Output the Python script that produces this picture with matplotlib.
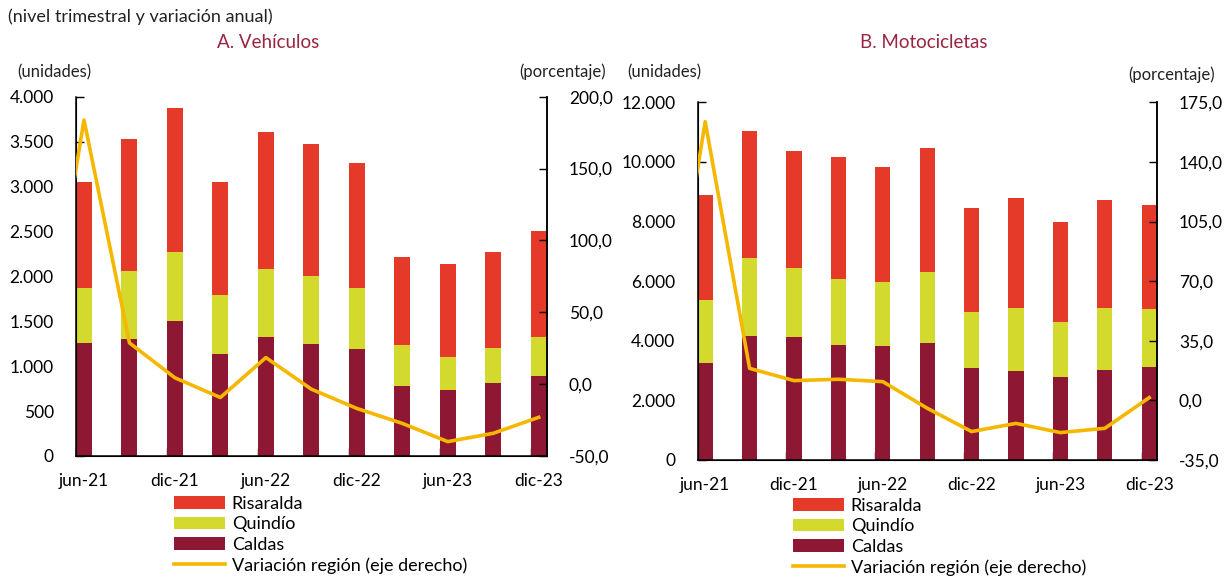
import matplotlib
matplotlib.use("Agg")
import matplotlib.pyplot as plt
from matplotlib.patches import Patch
from matplotlib.lines import Line2D

plt.rcParams['font.family'] = ['Lato', 'DejaVu Sans']

# ---------------- data ----------------
quarters = ["jun-21", "sep-21", "dic-21", "mar-22", "jun-22", "sep-22",
            "dic-22", "mar-23", "jun-23", "sep-23", "dic-23"]
tick_labels = ["jun-21", "dic-21", "jun-22", "dic-22", "jun-23", "dic-23"]

# A. Vehículos (unidades)
veh_caldas = [1261, 1306, 1506, 1135, 1321, 1250, 1187, 775, 731, 809, 890]
veh_quindio = [613, 757, 768, 653, 764, 753, 687, 457, 375, 397, 431]
veh_risaralda = [1172, 1469, 1603, 1258, 1521, 1473, 1383, 987, 1027, 1068, 1180]
# variación anual región (%), first value = mar-21 (outside the visible range)
veh_var = [-9.0, 183.8, 28.7, 4.4, -9.3, 18.5, -3.5, -16.9, -27.3, -40.0, -34.2, -23.1]

# B. Motocicletas (unidades)
moto_caldas = [3242, 4159, 4114, 3846, 3812, 3935, 3075, 2996, 2773, 3030, 3119]
moto_quindio = [2124, 2616, 2315, 2236, 2147, 2371, 1900, 2102, 1856, 2068, 1934]
moto_risaralda = [3511, 4260, 3924, 4092, 3868, 4170, 3477, 3701, 3342, 3611, 3489]
moto_var = [2.2, 163.6, 18.8, 11.6, 12.4, 11.0, -4.6, -18.3, -13.5, -18.9, -16.4, 1.6]

# ---------------- style ----------------
C_RIS = "#E5392A"
C_QUI = "#D4D92E"
C_CAL = "#8E1733"
C_LINE = "#F5B700"
C_TITLE = "#9A2442"

W, H = 1228, 577
fig = plt.figure(figsize=(W / 100, H / 100), dpi=100)


def px(x0, y0, x1, y1):
    return [x0 / W, 1 - y1 / H, (x1 - x0) / W, (y1 - y0) / H]


def panel(rect, caldas, quindio, risaralda, var, ylim, yticks, yfmt,
          rlim, rticks, bw):
    ax = fig.add_axes(rect)
    x = list(range(len(quarters)))
    base2 = [a + b for a, b in zip(caldas, quindio)]
    ax.bar(x, caldas, width=bw, color=C_CAL, zorder=2)
    ax.bar(x, quindio, width=bw, bottom=caldas, color=C_QUI, zorder=2)
    ax.bar(x, risaralda, width=bw, bottom=base2, color=C_RIS, zorder=2)
    ax.set_xlim(-bw / 2, len(quarters) - 1 + bw / 2)
    ax.set_ylim(*ylim)
    ax.set_yticks(yticks)
    ax.set_yticklabels([yfmt(v) for v in yticks])
    # major ticks at category boundaries (left edge of bars), labels centred
    ax.set_xticks([i - bw / 2 for i in range(0, len(quarters), 2)])
    ax.set_xticklabels([])
    ax.set_xticks(list(range(0, len(quarters), 2)), minor=True)
    ax.set_xticklabels(tick_labels, minor=True)
    ax.tick_params(axis='x', which='major', direction='in', length=6, width=1)
    ax.tick_params(axis='x', which='minor', length=0, pad=12, labelsize=12.5)
    ax.tick_params(axis='y', direction='in', length=6, width=1, pad=16,
                   labelsize=12.5)
    ax.spines['top'].set_visible(False)
    for s in ['left', 'bottom', 'right']:
        ax.spines[s].set_linewidth(1.1)

    ax2 = ax.twinx()
    xl = list(range(-1, len(quarters)))
    ax2.plot(xl, var, color=C_LINE, lw=2.6, zorder=3, solid_joinstyle='round')
    ax2.set_ylim(*rlim)
    ax2.set_yticks(rticks)
    ax2.set_yticklabels([f"{v:.1f}".replace(".", ",") for v in rticks])
    ax2.tick_params(axis='y', direction='in', length=6, width=1, pad=16,
                    labelsize=12.5)
    ax2.spines['top'].set_visible(False)
    ax2.spines['right'].set_linewidth(1.1)
    ax2.set_xlim(ax.get_xlim())
    return ax, ax2


def thousands(v):
    return f"{v:,.0f}".replace(",", ".")


axA, axA2 = panel(px(76, 96.7, 546.7, 456), veh_caldas, veh_quindio, veh_risaralda,
                  veh_var, (0, 4000), list(range(0, 4001, 500)), thousands,
                  (-50, 200), [-50, 0, 50, 100, 150, 200], 0.352)
axB, axB2 = panel(px(697.7, 102.3, 1156.7, 460), moto_caldas, moto_quindio,
                  moto_risaralda, moto_var, (0, 12000), list(range(0, 12001, 2000)),
                  thousands, (-35, 175), [-35, 0, 35, 70, 105, 140, 175], 0.338)

# ---------------- texts ----------------
fig.text(8 / W, 1 - 17 / H, "(nivel trimestral y variación anual)",
         fontsize=13, va='center', ha='left', color='#222222')
fig.text(268 / W, 1 - 43 / H, "A. Vehículos", fontsize=13.5, color=C_TITLE,
         ha='center', va='center')
fig.text(924 / W, 1 - 43 / H, "B. Motocicletas", fontsize=13.5, color=C_TITLE,
         ha='center', va='center')
for xx, yy, t, ha in [(17, 72, "(unidades)", 'left'), (606, 72, "(porcentaje)", 'right'),
                      (627, 72, "(unidades)", 'left'), (1215, 75, "(porcentaje)", 'right')]:
    fig.text(xx / W, 1 - yy / H, t, fontsize=12, ha=ha, va='center', color='#222222')

# ---------------- legends ----------------
handles = [Patch(facecolor=C_RIS, edgecolor='none'),
           Patch(facecolor=C_QUI, edgecolor='none'),
           Patch(facecolor=C_CAL, edgecolor='none'),
           Line2D([], [], color=C_LINE, lw=2.6)]
labels = ["Risaralda", "Quindío", "Caldas", "Variación región (eje derecho)"]
for x0, y0 in [(174, 496), (793, 498)]:
    fig.legend(handles, labels, loc='upper left', bbox_to_anchor=(x0 / W, 1 - y0 / H),
               frameon=False, fontsize=13, handlelength=2.85, handleheight=0.7,
               handletextpad=0.35, labelspacing=0.24, borderpad=0, borderaxespad=0)

fig.savefig("out.png", dpi=100)
